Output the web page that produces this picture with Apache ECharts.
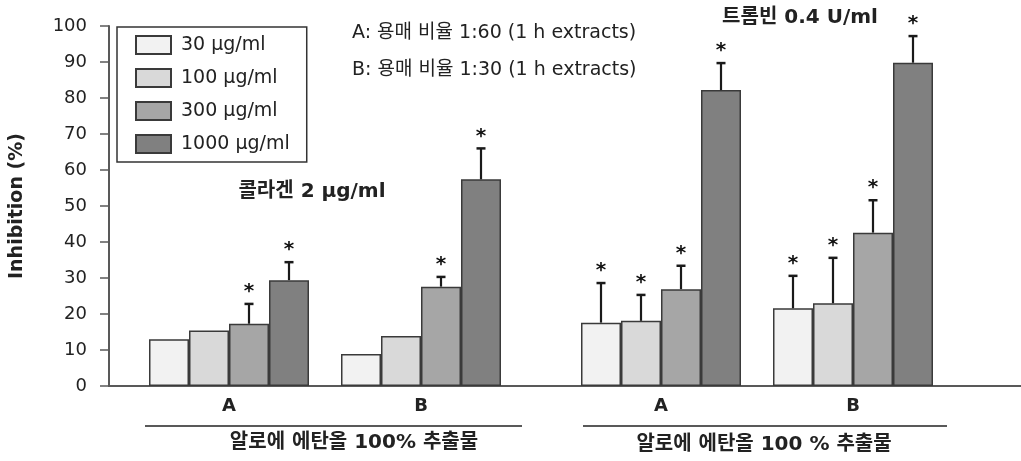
<!DOCTYPE html>
<html>
<head>
<meta charset="utf-8">
<script src="https://cdn.jsdelivr.net/npm/echarts@6/dist/echarts.min.js"></script>
<style>
html,body{margin:0;padding:0;background:#fff;}
#chart{width:1021px;height:461px;}
</style>
</head>
<body>
<div id="chart"></div>
<script>
// ---- data ----
const groupLabels = ['A', 'B', 'A', 'B'];
const seriesNames = ['30 μg/ml', '100 μg/ml', '300 μg/ml', '1000 μg/ml'];
// mean inhibition (%) per group [collagen A, collagen B, thrombin A, thrombin B]
const mean30   = [13.0,  8.9, 17.6, 21.6];
const mean100  = [15.4, 13.9, 18.1, 23.0];
const mean300  = [17.3, 27.6, 26.9, 42.6];
const mean1000 = [29.4, 57.4, 82.2, 89.8];
// upper end of error bars (null = no error bar shown)
const err30   = [null, null, 28.6, 30.6];
const err100  = [null, null, 25.3, 35.6];
const err300  = [22.8, 30.3, 33.4, 51.6];
const err1000 = [34.4, 66.0, 89.7, 97.2];
// significance marks
const sig30   = [false, false, true, true];
const sig100  = [false, false, true, true];
const sig300  = [true, true, true, true];
const sig1000 = [true, true, true, true];
const yTicks = [0, 10, 20, 30, 40, 50, 60, 70, 80, 90, 100];

// ---- layout ----
const SLOT_COUNT = 19;
const slotOf = [2, 6, 11, 15];
const BAR_W = 40;
const colors = ['#f2f2f2', '#d9d9d9', '#a6a6a6', '#808080'];
const FONT = '"DejaVu Sans", "Noto Sans CJK KR", sans-serif';

const means = [mean30, mean100, mean300, mean1000];
const errs = [err30, err100, err300, err1000];
const sigs = [sig30, sig100, sig300, sig1000];

const axisCats = [];
for (let i = 0; i < SLOT_COUNT; i++) {
  const g = slotOf.indexOf(i);
  axisCats.push(g >= 0 ? groupLabels[g] : '');
}

function slotData(arr) {
  const out = new Array(SLOT_COUNT).fill('-');
  slotOf.forEach((s, g) => { out[s] = arr[g]; });
  return out;
}

const barSeries = seriesNames.map((name, k) => ({
  name: name,
  type: 'bar',
  barWidth: BAR_W,
  barGap: '0%',
  data: slotData(means[k]),
  itemStyle: { color: colors[k], borderColor: '#3a3a3a', borderWidth: 1.5 },
  z: 2
}));

const errData = [];
for (let k = 0; k < 4; k++) {
  for (let g = 0; g < 4; g++) {
    if (errs[k][g] != null) errData.push([slotOf[g], means[k][g], errs[k][g], k, sigs[k][g] ? 1 : 0]);
  }
}

const errSeries = {
  type: 'custom',
  name: 'err',
  z: 5,
  data: errData,
  renderItem: function (params, api) {
    const slot = api.value(0), m = api.value(1), up = api.value(2), k = api.value(3), sig = api.value(4);
    const p0 = api.coord([slot, m]);
    const p1 = api.coord([slot, up]);
    const x = p0[0] + (k - 1.5) * BAR_W;
    const children = [
      { type: 'line', shape: { x1: x, y1: p0[1], x2: x, y2: p1[1] }, style: { stroke: '#1a1a1a', lineWidth: 2.2 } },
      { type: 'line', shape: { x1: x - 4.5, y1: p1[1], x2: x + 4.5, y2: p1[1] }, style: { stroke: '#1a1a1a', lineWidth: 2.5 } }
    ];
    if (sig) {
      children.push({ type: 'text', style: { text: '*', x: x, y: p1[1] - 12, align: 'center', verticalAlign: 'middle',
        font: 'bold 20px "DejaVu Sans", sans-serif', fill: '#111' } });
    }
    return { type: 'group', children: children };
  }
};

const chart = echarts.init(document.getElementById('chart'));
chart.setOption({
  animation: false,
  backgroundColor: '#fff',
  grid: { left: 105, right: 0, top: 26, bottom: 75, containLabel: false },
  legend: {
    data: seriesNames,
    orient: 'vertical',
    left: 117, top: 27,
    icon: 'rect',
    itemWidth: 35, itemHeight: 18, itemGap: 13,
    padding: [8, 17, 8, 18],
    borderColor: '#333', borderWidth: 1.5,
    textStyle: { fontSize: 19, color: '#222', fontFamily: FONT, lineHeight: 18, padding: [0, 0, 0, 5] }
  },
  xAxis: {
    type: 'category',
    data: axisCats,
    boundaryGap: true,
    axisLine: { lineStyle: { color: '#595959', width: 2.2 } },
    axisTick: { show: false },
    axisLabel: { interval: 0, fontSize: 18, fontWeight: 'bold', color: '#222', fontFamily: FONT, margin: 11 },
    splitLine: { show: false }
  },
  yAxis: {
    type: 'value',
    min: yTicks[0], max: yTicks[yTicks.length - 1], interval: 10,
    name: 'Inhibition (%)',
    nameLocation: 'middle',
    nameGap: 82,
    nameTextStyle: { fontSize: 19, fontWeight: 'bold', color: '#222', fontFamily: FONT },
    axisLine: { show: true, lineStyle: { color: '#595959', width: 2 } },
    axisTick: { show: true, length: 9, lineStyle: { color: '#595959', width: 1.5 } },
    axisLabel: { fontSize: 18, color: '#222', fontFamily: FONT, margin: 22 },
    splitLine: { show: false }
  },
  series: barSeries.concat([errSeries]),
  graphic: [
    { type: 'text', x: 352, y: 33, style: { text: 'A: 용매 비율 1:60 (1 h extracts)', font: '19px ' + FONT, fill: '#222', verticalAlign: 'middle' } },
    { type: 'text', x: 352, y: 70, style: { text: 'B: 용매 비율 1:30 (1 h extracts)', font: '19px ' + FONT, fill: '#222', verticalAlign: 'middle' } },
    { type: 'text', x: 800, y: 18, style: { text: '트롬빈 0.4 U/ml', font: 'bold 20px ' + FONT, fill: '#222', align: 'center', verticalAlign: 'middle' } },
    { type: 'text', x: 312, y: 192, style: { text: '콜라겐 2 μg/ml', font: 'bold 20px ' + FONT, fill: '#222', align: 'center', verticalAlign: 'middle' } },
    { type: 'line', shape: { x1: 145, y1: 426, x2: 522, y2: 426 }, style: { stroke: '#222', lineWidth: 1.5 } },
    { type: 'line', shape: { x1: 583, y1: 426, x2: 947, y2: 426 }, style: { stroke: '#222', lineWidth: 1.5 } },
    { type: 'text', x: 354, y: 443, style: { text: '알로에 에탄올 100% 추출물', font: 'bold 20px ' + FONT, fill: '#222', align: 'center', verticalAlign: 'middle' } },
    { type: 'text', x: 764, y: 445, style: { text: '알로에 에탄올 100 % 추출물', font: 'bold 20px ' + FONT, fill: '#222', align: 'center', verticalAlign: 'middle' } }
  ]
});
</script>
</body>
</html>
